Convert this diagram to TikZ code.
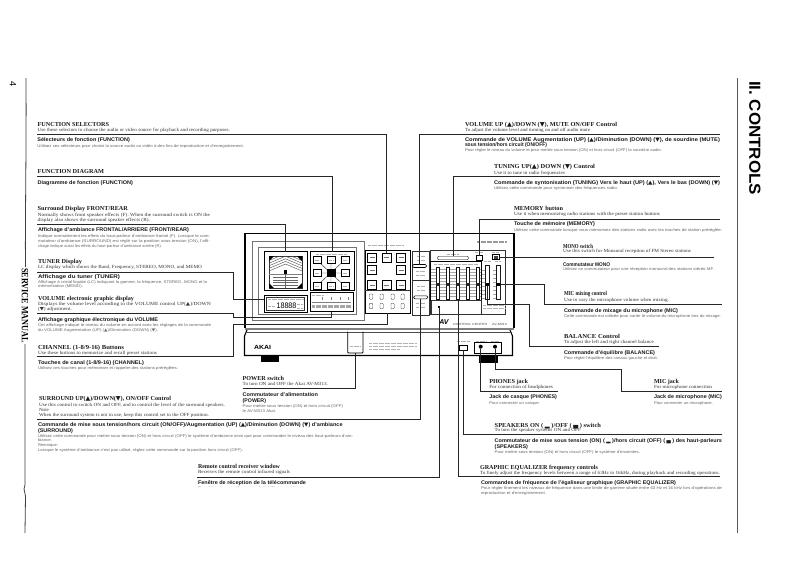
\documentclass[tikz,border=0pt]{standalone}
\usepackage{fontspec}
\usepackage{graphicx}
\setmainfont{Liberation Serif}
\setsansfont{Liberation Sans}
\newfontfamily\symf{DejaVu Sans}
\newcommand\UP{{\symf ▲}}
\newcommand\DN{{\symf ▼}}
\newcommand\T[6]{\node[#4,anchor=mid west,inner sep=0pt,outer sep=0pt] (#1) at (#2,#3) {\resizebox{\dimexpr #5pt-#2pt\relax}{\height}{#6}};}
\tikzset{
 hser/.style={font=\fontsize{6.1}{7}\selectfont\rmfamily\bfseries,text=black!90},
 hsan/.style={font=\fontsize{5.3}{6}\selectfont\sffamily\bfseries,text=black!90},
 bser/.style={font=\fontsize{4.7}{6}\selectfont\rmfamily,text=black!80},
 bsan/.style={font=\fontsize{3.9}{5}\selectfont\sffamily,text=black!60},
 lead/.style={draw=black!85,line width=.7pt},
 pageline/.style={draw=black!75,line width=.8pt},
 frame/.style={draw=black,line width=1.1pt},
 thin/.style={draw=black!80,line width=.45pt},
 gframe/.style={draw=black!55,line width=.8pt},
 tiny/.style={draw=black!30,line width=.7pt,dash pattern=on .7pt off .5pt},
 btn/.style={draw=black,line width=.7pt,fill=white,minimum width=8pt,minimum height=7pt,inner sep=0pt,outer sep=0pt},
 knob/.style={draw=black!70,line width=.4pt,rounded corners=1pt,fill=white,minimum width=3.5pt,minimum height=5.5pt,inner sep=0pt,outer sep=0pt},
 oblong/.style={draw=black,line width=.6pt,rounded corners=1.2pt,fill=white,minimum height=3pt,inner sep=0pt,outer sep=0pt},
 pnl/.style={draw=black,inner sep=0pt,outer sep=0pt,line width=.6pt},
}
\begin{document}
\begin{tikzpicture}[x=1pt,y=-1pt]
\useasboundingbox (0,0) rectangle (793,560);
\fill[white] (0,0) rectangle (793,560);
% page lines
\draw[pageline] (26,78) .. controls (26.5,150) and (25,220) .. (25.5,267);
\draw[pageline] (25,344) -- (25,485) -- (24,489) -- (25.5,496) -- (25,533);
\draw[draw=black!65,line width=.8pt] (737,78) -- (737,533);
\node[font=\fontsize{9}{9}\selectfont\sffamily,rotate=-90,inner sep=0pt] (pagenum) at (13,84) {4};
\node[font=\fontsize{9.6}{10}\selectfont\rmfamily\bfseries,rotate=-90,inner sep=0pt] (svc) at (25,305.5) {\resizebox{75pt}{\height}{SERVICE MANUAL}};
\node[font=\fontsize{16}{16}\selectfont\sffamily\bfseries,rotate=-90,inner sep=0pt] (ctl) at (755,138) {\resizebox{114pt}{\height}{II. CONTROLS}};

% ---- device
\draw[frame] (245,328) -- (245,233.3) -- (514,233.3) -- (514,328);
\draw[draw=black!50,line width=1.4pt] (245,329) -- (514,329);
\draw[frame] (247,330) -- (244.5,336) -- (244.5,355.5) -- (512.5,355.5) -- (512.5,336) -- (510,330);
\draw[draw=black!70,line width=.5pt] (246,332) -- (511,332);
\fill[black] (261,356) rectangle (279,362);
\fill[black] (479,356) rectangle (498,362.5);
\draw[gframe] (252.7,241.7) rectangle (364,320);
\draw[gframe,line width=.6pt] (258,247) rectangle (356,314);
% surround panel
\node[pnl,line width=.9pt,minimum width=43pt,minimum height=38.3pt,anchor=north west] (surP) at (264,251.7) {};
\draw[thin,line width=.4pt] (269,256) rectangle (302,288);
\begin{scope}
\clip (269,256) rectangle (302,288);
\foreach \i in {0,...,5}{
 \draw[draw=black!70,line width=.4pt] (269,{271-2.6*\i}) -- (285.5,{264-2.6*\i}) -- (302,{271-2.6*\i});
}
\foreach \i in {0,...,3}{
 \draw[draw=black!60,line width=.35pt] (273,{277+2.8*\i}) -- (298,{277+2.8*\i});
}
\draw[draw=black!50,line width=.5pt] (269,274) -- (302,274);
\draw[draw=black!60,line width=.4pt] (285.5,274) -- (285.5,288);
\end{scope}
\fill[black] (269,256) -- (274,256) -- (269,261) -- cycle;
\fill[black] (302,256) -- (297,256) -- (302,261) -- cycle;
\fill[black] (269,288) -- (274,288) -- (269,283) -- cycle;
\fill[black] (302,288) -- (297,288) -- (302,283) -- cycle;
\fill[black] (283.8,270.4) rectangle (287.2,273.8);
% function diagram panel
\node[pnl,minimum width=44pt,minimum height=38.3pt,anchor=north west] (fnP) at (310,251.7) {};
\draw[thin] (316.7,260) -- (344.7,286) (344.7,260) -- (316.7,286) (331,260) -- (331,286) (316.7,273) -- (344.7,273);
\foreach \c/\X/\Y in {a/316.7/260,b/331/260,c/344.7/260,d/316.7/273,f/344.7/273,g/316.7/286,h/331/286,i/344.7/286}{
 \node[btn,line width=.4pt] (fn\c) at (\X,\Y) {};
 \draw[tiny,line width=.5pt] (\X-2,\Y) -- (\X+2,\Y);
}
\node[btn,fill=black] (fne) at (331,273) {};
\draw[tiny,line width=.4pt] (316,254) -- (347,254);
% tuner display
\node[pnl,line width=.8pt,minimum width=43pt,minimum height=17.7pt,anchor=north west] (tunP) at (264,295) {};
\draw[thin,line width=.35pt] (266.5,297) rectangle (304.5,310.5);
\draw[tiny,line width=.6pt] (268,299.5) -- (303,299.5);
\draw[tiny,line width=.6pt] (268,306) -- (275,306);
\draw[tiny,line width=.6pt] (297,304) -- (303,304) (297,308) -- (303,308);
\node[font=\fontsize{8}{8}\selectfont\sffamily,inner sep=0pt] (digits) at (286.5,306) {\resizebox{20pt}{\height}{18888}};
% volume graphic
\node[pnl,line width=.5pt,minimum width=43pt,minimum height=19pt,anchor=north west] (volP) at (310,292.7) {};
\draw[tiny,line width=.5pt] (312,295) -- (323,295);
\foreach \X in {322,331,340,348}{\draw[black!50,line width=.4pt] (\X,297) -- (\X,300);}
\draw[draw=black!50,line width=.4pt] (312,302) -- (351,302);
\draw[draw=black!35,line width=3.6pt,dash pattern=on .6pt off .6pt] (312,306.5) -- (351,306.5);
% function selectors
\node[pnl,line width=.7pt,minimum width=45pt,minimum height=63pt,anchor=north west] (chP) at (365,250) {};
\draw[thin,line width=.6pt] (365,290) -- (410,290);
\draw[tiny] (368,245) -- (403,245);
\foreach \c/\X/\Y in {a/372.3/257.7,c/401/257.7,d/372.3/270,f/401/270,g/372.3/285,h/386.7/285,i/401/285}{
 \node[btn,line width=.8pt,minimum width=9pt,minimum height=8.5pt] (fs\c) at (\X,\Y) {};
 \draw[draw=black!55,line width=.9pt] (\X-2.5,\Y) -- (\X+2.5,\Y);
}
\node[btn,line width=.8pt,minimum width=9pt,minimum height=8.5pt] (fsB) at (386.7,257.7) {};
\draw[draw=black!55,line width=.9pt] (384.2,257.7) -- (389.2,257.7);
\foreach \X in {371,381.7,392.7,402.7}{
 \node[knob] (kA\X) at (\X,296.7) {};
 \node[knob] (kB\X) at (\X,306) {};
}
% mid column
\draw[thin,line width=.7pt] (412.7,251.7) rectangle (429,315);
\draw[thin,line width=.7pt] (412.7,280) -- (429,280);
\node[oblong,minimum width=14pt] (volK) at (419.5,266) {};
\node[oblong,minimum width=14pt] (surK) at (420.7,297.3) {};
\draw[tiny] (417,256) -- (425,256) (417,260) -- (425,260) (416,271) -- (425,271) (416,275) -- (425,275);
\draw[tiny] (417,286) -- (425,286) (417,290) -- (425,290) (416,303) -- (425,303) (416,307) -- (425,307);
% right module
\draw[thin,line width=.6pt] (430,250) rectangle (505.7,314);
\node[oblong,line width=.4pt,minimum width=31pt,minimum height=3.5pt] (tunK) at (453,258) {};
\draw[tiny,line width=.5pt] (447,254) -- (458,254);
\node[btn,minimum width=6pt,minimum height=5pt] (memB) at (479,258.2) {};
\node[btn,minimum width=7pt,minimum height=5pt] (monoB) at (495.5,257.3) {};
\fill[black!75] (493.5,256) rectangle (497.5,258.6);
\draw[tiny,line width=.5pt] (475,252.5) -- (483,252.5) (492,252.5) -- (499,252.5);
\draw[draw=black,line width=.8pt] (430.7,261.7) rectangle (481,300);
\draw[tiny,line width=.5pt] (434,264) -- (478,264);
\foreach \Y in {269,272,...,298}{\draw[draw=black!35,line width=.3pt] (431,\Y) -- (481,\Y);}
\foreach \n/\X in {1/437.3,2/447.7,4/468,5/477.7,3/458}{
 \draw[fill=white,draw=black!90,line width=.4pt] (\X-1.6,267) rectangle (\X+1.6,299.5);
 \fill[black!85] (\X-1.6,282.8) rectangle (\X+1.6,285.6);
 \coordinate (sl\n) at (\X,299.5);
}
\foreach \n/\X in {bal/487.3,mic/498}{
 \draw[fill=white,draw=black!90,line width=.4pt] (\X-1.8,265) rectangle (\X+1.8,299);
 \foreach \Y in {270,274,...,298}{\draw[draw=black!35,line width=.3pt] (\X-5,\Y) -- (\X-2,\Y);}
 \node[fill=black,minimum width=3.6pt,minimum height=3pt,inner sep=0pt,outer sep=0pt] (\n K) at (\X,284) {};
}
\draw[tiny,line width=.5pt] (484,261.5) -- (491,261.5) (495,261.5) -- (501,261.5);
\draw[thin] (431,300) rectangle (481,314);
\fill[black] (438.3,306) rectangle (439.9,307.6);
\coordinate (remW) at (439.1,306.8);
\draw[tiny,line width=.6pt] (483,305) -- (505,305) (483,308.5) -- (505,308.5);
\draw[draw=black!40,line width=2pt,dash pattern=on .8pt off .4pt] (477,241.7) -- (506,241.7);
% lower strip
\node[font=\fontsize{7}{7}\selectfont\sffamily\bfseries\itshape,inner sep=0pt] (avlogo) at (444,322) {AV};
\T{cc}{453}{323}{font=\fontsize{3}{3}\selectfont\sffamily,text=black!70}{507}{CONTROL CENTER \quad AV-M313}
\T{akai}{254}{347}{font=\fontsize{6}{6}\selectfont\sffamily\bfseries}{271}{AKAI}
\coordinate (powS) at (355.4,353);
\draw[draw=black,line width=.9pt,rounded corners=.8pt] (347.7,331.7) -- (347.7,353) -- (363,353) -- (363,331.7);
\draw[tiny,line width=.5pt] (350,346) -- (360,346);
\draw[tiny,line width=.4pt] (369,343) -- (416,343) (369,346) -- (416,346) (369,349) -- (400,349);
\node[btn,line width=.6pt,minimum width=8pt,minimum height=5pt] (spkB) at (463.5,347.5) {};
\draw[tiny,line width=.5pt] (457,341) -- (470,341);
\draw[draw=black,line width=.8pt] (474.3,342.7) rectangle (501,353);
\draw[tiny,line width=.5pt] (476,341) -- (486,341) (491,341) -- (499,341);
\node[circle,fill=black,minimum size=4pt,inner sep=0pt,outer sep=0pt] (phJ) at (480.7,346.7) {};
\node[circle,fill=black,minimum size=4pt,inner sep=0pt,outer sep=0pt] (micJ) at (495,346.7) {};

% ---- leaders
\coordinate (fsL) at (37,134);
\coordinate (fdL) at (37,176);
\coordinate (srL) at (37,224);
\coordinate (tuL) at (37,272); \coordinate (tuB) at (233,299);
\coordinate (voL) at (37,313.5); \coordinate (voB) at (233,317);
\coordinate (chL) at (37,356); \coordinate (chB) at (233,324);
\coordinate (skL) at (37,419);
\coordinate (reL) at (197,477);
\coordinate (pwL) at (242.7,388.7);
\coordinate (vkR) at (720,134);
\coordinate (tkR) at (720,176.7);
\coordinate (mmR) at (720,219.3);
\coordinate (moR) at (714,257.3);
\coordinate (mcR) at (722,304.3); \coordinate (mcB) at (544,284);
\coordinate (baR) at (659,346.7); \coordinate (baB) at (529,304.5);
\coordinate (phR) at (557.7,391);
\coordinate (mjR) at (721.7,391); \coordinate (mjB) at (621.7,369);
\coordinate (spR) at (722,434.3);
\coordinate (eqR) at (720,476.7);
\draw[lead] (fsL) -| (fsB.north);
\draw[lead] (fdL) -| (fnP.north);
\draw[lead] (srL) -| (surP.north);
\draw[lead] (tuL) -| (tuB) -- (tuB -| tunP.west);
\draw[lead] (voL) -| (voB) -| (volP.south);
\draw[lead] (chL) -| (chB) -| (chP.south);
\draw[lead] (skL) -| (surK.south);
\draw[lead] (reL) -| (remW);
\draw[lead] (pwL) -| (powS);
\draw[lead] (vkR) -| (volK.north);
\draw[lead] (tkR) -| (tunK.north);
\draw[lead] (mmR) -| (memB.north);
\draw[lead] (moR) -- (monoB.east);
\draw[lead] (mcR) -| (mcB) -- (micK.east);
\draw[lead] (baR) -| (baB) -| (balK.south);
\draw[lead] (phR) -| (phJ.south);
\draw[lead] (mjR) -| (mjB) -| (micJ.south);
\draw[lead] (spR) -| (spkB.south);
\draw[lead] (eqR) -| (sl3);

% ---- left texts
\T{t1}{37.7}{124}{hser}{109}{FUNCTION SELECTORS}
\T{t2}{37.7}{129.5}{bser}{230}{Use these selectors to choose the audio or video source for playback and recording purposes.}
\T{t3}{37.5}{139.7}{hsan}{130}{Sélecteurs de fonction (FUNCTION)}
\T{t4}{37.5}{145}{bsan}{244}{Utilisez ces sélecteurs pour choisir la source audio ou vidéo à des fins de reproduction et d'enregistrement.}
\T{t5}{37.7}{171}{hser}{104}{FUNCTION DIAGRAM}
\T{t6}{37.5}{182}{hsan}{133}{Diagramme de fonction (FUNCTION)}
\T{t7}{37.7}{208.7}{hser}{128}{Surround Display FRONT/REAR}
\T{t8}{37.7}{214.5}{bser}{210}{Normally shows front speaker effects (F). When the surround switch is ON the}
\T{t9}{37.7}{219.7}{bser}{150}{display also shows the surround speaker effects (R).}
\T{t10}{38}{229.7}{hsan}{189}{Affichage d'ambiance FRONTAL/ARRIERE (FRONT/REAR)}
\T{t11}{38}{235.3}{bsan}{210}{Indique normalement les effets du haut-parleur d'ambiance frontal (F). Lorsque le com-}
\T{t12}{38}{240.3}{bsan}{210}{mutateur d'ambiance (SURROUND) est réglé sur la position sous tension (ON), l'affi-}
\T{t13}{38}{245.3}{bsan}{162}{chage indique aussi les effets du haut-parleur d'ambiance arrière (R).}
\T{t14}{38}{261}{hser}{82}{TUNER Display}
\T{t15}{38}{266}{bser}{202}{LC display which shows the Band, Frequency, STEREO, MONO, and MEMO}
\T{t16}{38}{276}{hsan}{120}{Affichage du tuner (TUNER)}
\T{t17}{38}{281.7}{bsan}{207}{Affichage à cristal liquide (LC) indiquant la gamme, la fréquence, STEREO, MONO et la}
\T{t18}{38}{285.3}{bsan}{83}{mémorisation (MEMO).}
\T{t19}{38}{298.7}{hser}{134}{VOLUME electronic graphic display}
\T{t20}{38}{303.3}{bser}{211}{Displays the volume level according to the VOLUME control UP(\UP)/DOWN}
\T{t21}{38}{308}{bser}{72}{(\DN) adjustment.}
\T{t22}{38}{318.7}{hsan}{158}{Affichage graphique électronique du VOLUME}
\T{t23}{38}{324}{bsan}{211}{Cet affichage indique le niveau du volume en accord avec les réglages de la commande}
\T{t24}{38}{329.3}{bsan}{158}{du VOLUME Augmentation (UP) (\UP)/Diminution (DOWN) (\DN).}
\T{t25}{38}{346.7}{hser}{124}{CHANNEL (1-8/9-16) Buttons}
\T{t26}{38}{352}{bser}{157}{Use these buttons to memorize and recall preset stations}
\T{t27}{38}{362}{hsan}{144}{Touches de canal (1-8/9-16) (CHANNEL)}
\T{t28}{38}{367.7}{bsan}{178}{Utilisez ces touches pour mémoriser et rappeler des stations préréglées.}
\T{t29}{39}{398}{hser}{171}{SURROUND UP(\UP)/DOWN(\DN), ON/OFF Control}
\T{t30}{39}{404}{bser}{225}{Use this control to switch ON and OFF, and to control the level of the surround speakers.}
\T{t31}{39}{409.3}{bser}{49}{Note}
\T{t32}{39}{414}{bser}{209}{When the surround system is not in use, keep this control set to the OFF position.}
\T{t33}{38}{424.3}{hsan}{342.7}{Commande de mise sous tension/hors circuit (ON/OFF)/Augmentation (UP) (\UP)/Diminution (DOWN) (\DN) d'ambiance}
\T{t34}{38}{429.7}{hsan}{73}{(SURROUND)}
\T{t35}{38}{435}{bsan}{353}{Utilisez cette commande pour mettre sous tension (ON) et hors circuit (OFF) le système d'ambiance ainsi que pour commander le niveau des haut-parleurs d'am-}
\T{t36}{38}{439.3}{bsan}{52}{biance.}
\T{t37}{38}{444}{bsan}{58}{Remarque:}
\T{t38}{38}{449.3}{bsan}{243}{Lorsque le système d'ambiance n'est pas utilisé, réglez cette commande sur la position hors circuit (OFF).}
% ---- power and remote
\T{t39}{242.7}{377.7}{hser}{284}{POWER switch}
\T{t40}{242.7}{383}{bser}{328}{To turn ON and OFF the Akai AV-M313.}
\T{t41}{242.7}{394}{hsan}{318}{Commutateur d'alimentation}
\T{t42}{242.7}{399.7}{hsan}{266}{(POWER)}
\T{t43}{242.7}{404.7}{bsan}{343}{Pour mettre sous tension (ON) et hors circuit (OFF)}
\T{t44}{242.7}{409.7}{bsan}{276}{le AV-M313 Akai.}
\T{t45}{198}{465.7}{hser}{280}{Remote control receiver window}
\T{t46}{198}{471}{bser}{290}{Receives the remote control infrared signals}
\T{t47}{198}{481.7}{hsan}{306}{Fenêtre de réception de la télécommande}
\T{t48}{198}{487}{bsan}{297}{Reçoit les signaux infrarouges de la télécommande}
\fill[white] (190,487.2) rectangle (320,495);
% ---- right texts
\T{r1}{465}{124}{hser}{617}{VOLUME UP (\UP)/DOWN (\DN), MUTE ON/OFF Control}
\T{r2}{465}{129}{bser}{590}{To adjust the volume level and turning on and off audio mute}
\T{r3}{465}{139}{hsan}{720}{Commande de VOLUME Augmentation (UP) (\UP)/Diminution (DOWN) (\DN), de sourdine (MUTE)}
\T{r4}{465}{144.7}{hsan}{547}{sous tension/hors circuit (ON/OFF)}
\T{r5}{465}{149.7}{bsan}{662}{Pour régler le niveau du volume et pour mettre sous tension (ON) et hors circuit (OFF) la sourdine audio.}
\T{r6}{494}{166.7}{hser}{595}{TUNING UP(\UP) DOWN (\DN) Control}
\T{r7}{494}{172}{bser}{565}{Use it to tune in radio frequencies}
\T{r8}{494}{182}{hsan}{720}{Commande de syntonisation (TUNING) Vers le haut (UP) (\UP), Vers le bas (DOWN) (\DN)}
\T{r9}{494}{187.5}{bsan}{618}{Utilisez cette commande pour syntoniser des fréquences radio.}
\T{r10}{514}{208.3}{hser}{563}{MEMORY button}
\T{r11}{514}{213.7}{bser}{660}{Use it when memorizing radio stations with the preset station buttons}
\T{r12}{514}{223.7}{hsan}{595}{Touche de mémoire (MEMORY)}
\T{r13}{514}{229}{bsan}{722}{Utilisez cette commande lorsque vous mémorisez des stations radio avec les touches de station préréglée.}
\T{r14}{563}{246}{hser}{593}{MONO switch}
\T{r15}{563}{250.7}{bser}{691}{Use this switch for Monaural reception of FM Stereo stations}
\T{r16}{563}{264}{hsan}{610}{Commutateur MONO}
\T{r17}{563}{268.7}{bsan}{714}{Utilisez ce commutateur pour une réception monaural des stations stéréo MF.}
\T{r18}{564}{293.3}{hser}{607}{MIC mixing control}
\T{r19}{564}{299.3}{bser}{669}{Use to vary the microphone volume when mixing.}
\T{r20}{564}{310}{hsan}{678}{Commande de mixage du microphone (MIC)}
\T{r21}{564}{315}{bsan}{721}{Cette commande est utilisée pour varier le volume du microphone lors du mixage.}
\T{r22}{564}{336}{hser}{620}{BALANCE Control}
\T{r23}{564}{341.3}{bser}{654}{To adjust the left and right channel balance}
\T{r24}{564}{352}{hsan}{655}{Commande d'équilibre (BALANCE)}
\T{r25}{564}{357}{bsan}{658}{Pour régler l'équilibre des canaux gauche et droit.}
\T{r26}{489.3}{381}{hser}{528}{PHONES jack}
\T{r27}{489.3}{386}{bser}{553}{For connection of headphones}
\T{r28}{489.3}{396.7}{hsan}{557}{Jack de casque (PHONES)}
\T{r29}{489.3}{402}{bsan}{540}{Pour connecter un casque.}
\T{r30}{654}{381}{hser}{679}{MIC jack}
\T{r31}{654}{386}{bser}{712}{For microphone connection}
\T{r32}{654}{396.7}{hsan}{722}{Jack de microphone (MIC)}
\T{r33}{654}{402}{bsan}{713}{Pour connecter un microphone.}
\T{r34}{494.7}{424.7}{hser}{601}{SPEAKERS ON ( {\symf ▂} )/OFF ( {\symf ▄} ) switch}
\T{r35}{494.7}{429.3}{bser}{581}{To turn the speaker systems ON and OFF}
\T{r36}{494.7}{440}{hsan}{722}{Commutateur de mise sous tension (ON) ( {\symf ▂} )/hors circuit (OFF) ( {\symf ▄} ) des haut-parleurs}
\T{r37}{494.7}{445.7}{hsan}{528}{(SPEAKERS)}
\T{r38}{494.7}{451}{bsan}{640}{Pour mettre sous tension (ON) et hors circuit (OFF) le système d'enceintes.}
\T{r39}{480}{466.7}{hser}{598}{GRAPHIC EQUALIZER frequency controls}
\T{r40}{480}{472}{bser}{720}{To finely adjust the frequency levels between a range of 63Hz to 16kHz, during playback and recording operations.}
\T{r41}{481}{482.3}{hsan}{676}{Commandes de fréquence de l'égaliseur graphique (GRAPHIC EQUALIZER)}
\T{r42}{481}{487.3}{bsan}{722}{Pour régler finement les niveaux de fréquence dans une limite de gamme située entre 63 Hz et 16 kHz lors d'opérations de}
\T{r43}{481}{491.7}{bsan}{546}{reproduction et d'enregistrement.}
\end{tikzpicture}
\end{document}
